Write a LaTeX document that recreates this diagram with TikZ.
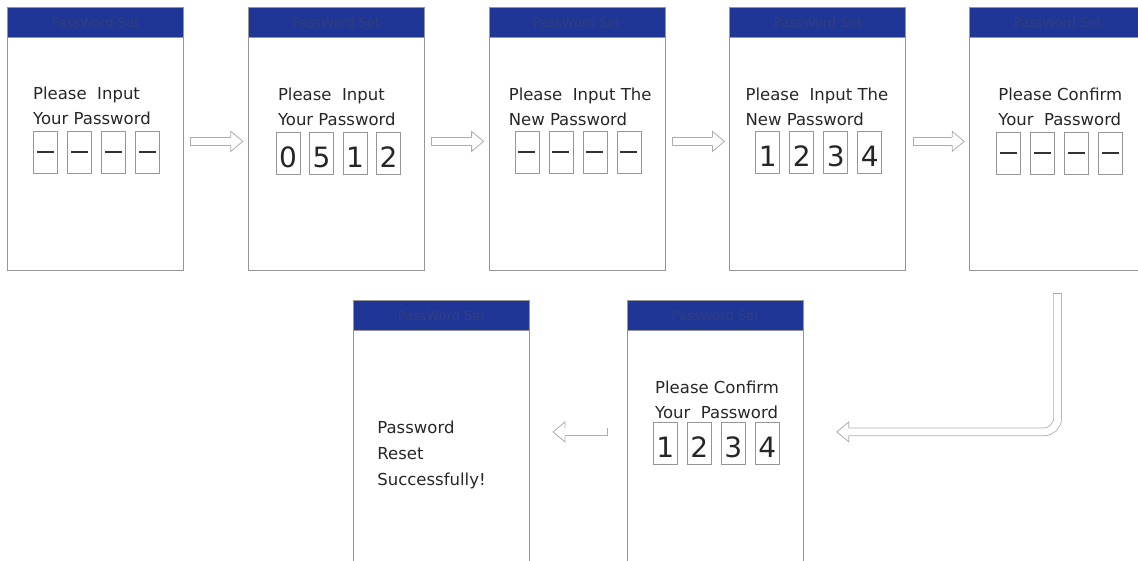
\documentclass[tikz,border=0pt]{standalone}
\usepackage{fontspec}
\setmainfont{DejaVu Sans}
\usetikzlibrary{positioning,calc}
\definecolor{hdrblue}{RGB}{32,54,150}
\definecolor{hdrtext}{RGB}{48,62,128}
\definecolor{framegray}{RGB}{150,150,150}
\definecolor{arrgray}{RGB}{172,172,172}

\begin{document}
\begin{tikzpicture}[x=1pt, y=-1pt,
        screen/.style={draw=framegray, line width=0.8pt, minimum width=176pt,
                       minimum height=263pt, inner sep=0pt, anchor=north west},
        header/.style={draw=framegray, fill=hdrblue, line width=0.8pt,
                       minimum width=176pt, minimum height=30pt, inner sep=0pt,
                       anchor=north, text=hdrtext, font=\fontsize{13}{13}\selectfont},
        msg/.style={anchor=north west, align=left, inner sep=0pt, text=black!85,
                    font=\fontsize{16.5}{25}\selectfont},
        digbox/.style={draw=framegray, line width=0.6pt, minimum width=24pt,
                       minimum height=42pt, inner sep=0pt, anchor=north west,
                       text height=28pt, text depth=0pt, text=black!85,
                       font=\fontsize{28}{28}\selectfont},
        dashbox/.style={digbox, path picture={\draw[line width=2pt, black!80]
                       ([xshift=3.5pt]path picture bounding box.west) --
                       ([xshift=-3.5pt]path picture bounding box.east);}},
        shaft/.style={draw=arrgray, line width=0.8pt, double=white, double distance=7pt},
        ahead/.pic={\draw[arrgray, line width=0.8pt, fill=white]
                    (-12,-3.9) -- (-12,-10) -- (0,0) -- (-12,10) -- (-12,3.9);},
        atail/.pic={\draw[arrgray, line width=0.8pt] (0,-4.3) -- (0,4.3);}
    ]
        \useasboundingbox (0,0) rectangle (1138,561);
        \clip (0,0) rectangle (1138,561);

        \node[screen] (s1) at (7,7) {};
        \node[screen, right=64pt of s1] (s2) {};
        \node[screen, right=64pt of s2] (s3) {};
        \node[screen, right=64pt of s3] (s4) {};
        \node[screen, right=63pt of s4] (s5) {};
        \node[screen] (s6) at (627,300) {};
        \node[screen, left=97pt of s6] (s7) {};

        \foreach \s in {s1,s2,s3,s4,s5,s6,s7}
            \node[header] (h\s) at (\s.north) {PassWord Set};

        \node[msg] (m1) at ($(s1.north west)+(26,80)$) {Please\ \ Input\\Your Password};
        \node[msg] (m2) at ($(s2.north west)+(30,81)$) {Please\ \ Input\\Your Password};
        \node[msg] (m3) at ($(s3.north west)+(20,81)$) {Please\ \ Input The\\New Password};
        \node[msg] (m4) at ($(s4.north west)+(16,81)$) {Please\ \ Input The\\New Password};
        \node[msg] (m5) at ($(s5.north west)+(29,81)$) {Please Confirm\\Your\ \ Password};
        \node[msg] (m6) at ($(s6.north west)+(28,81)$) {Please Confirm\\Your\ \ Password};
        \node[msg, font=\fontsize{16.5}{26}\selectfont] (m7) at ($(s7.north west)+(24,121)$)
            {Password\\Reset\\Successfully!};

        \foreach \i in {0,...,3} {
            \node[dashbox] (d1\i) at ($(s1.north west)+(26+34*\i,124)$) {};
            \node[dashbox] (d3\i) at ($(s3.north west)+(26+34*\i,124)$) {};
            \node[dashbox] (d5\i) at ($(s5.north west)+(27+34*\i,125)$) {};
        }
        \foreach \d [count=\i from 0] in {0,5,1,2}
            \node[digbox] (d2\i) at ($(s2.north west)+(28+33.5*\i,125)$) {\d};
        \foreach \d [count=\i from 0] in {1,2,3,4} {
            \node[digbox] (d4\i) at ($(s4.north west)+(26+34*\i,124)$) {\d};
            \node[digbox] (d6\i) at ($(s6.north west)+(26+34*\i,122)$) {\d};
        }

        \foreach \a/\b in {s1/s2,s2/s3,s3/s4,s4/s5} {
            \draw[shaft] ($(\a.east)+(7,2.5)$) -- ($(\b.west)+(-17,2.5)$);
            \path ($(\a.east)+(7,2.5)$) pic {atail};
            \path ($(\b.west)+(-5,2.5)$) pic {ahead};
        }

        \draw[shaft, rounded corners=14pt] ($(s5.south)+(0,23)$) |- ($(s6.east)+(45,0)$);
        \path ($(s5.south)+(0,23)$) pic[rotate=90] {atail};
        \path ($(s6.east)+(33,0)$) pic[rotate=180] {ahead};

        \draw[shaft] ($(s6.west)+(-20,0)$) -- ($(s7.east)+(35,0)$);
        \path ($(s6.west)+(-20,0)$) pic {atail};
        \path ($(s7.east)+(23,0)$) pic[rotate=180] {ahead};
    \end{tikzpicture}
\end{document}
